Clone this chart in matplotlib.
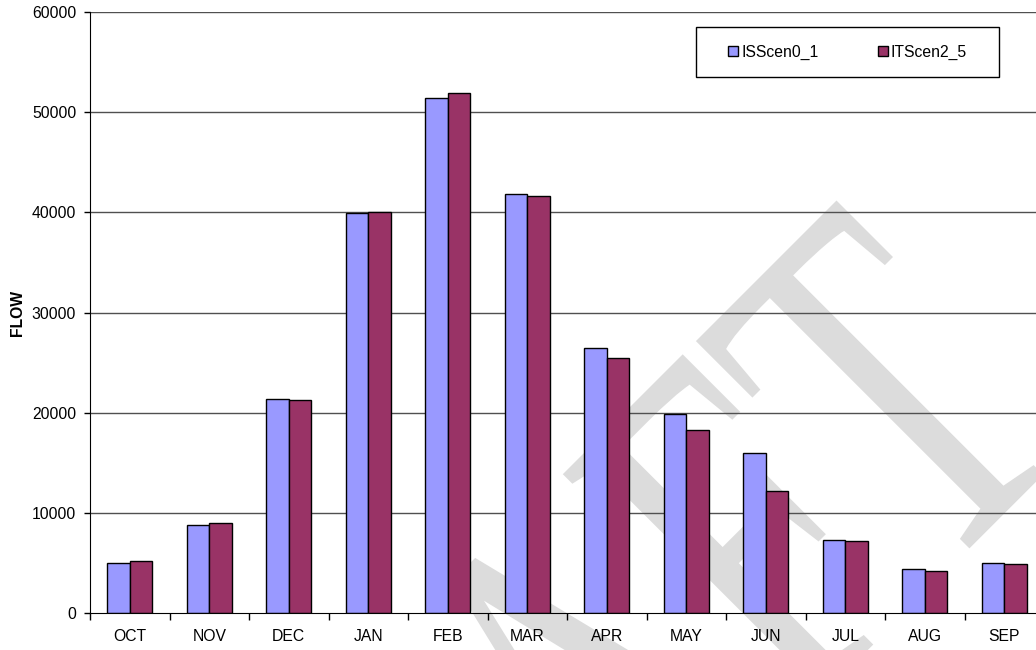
import numpy as np
import matplotlib
matplotlib.use('Agg')
import matplotlib.pyplot as plt
from matplotlib.textpath import TextPath
from matplotlib.font_manager import FontProperties
from matplotlib.patches import PathPatch, Rectangle
from matplotlib.transforms import Affine2D, IdentityTransform

months = ["OCT", "NOV", "DEC", "JAN", "FEB", "MAR", "APR", "MAY", "JUN", "JUL", "AUG", "SEP"]
isscen0_1 = [5050, 8780, 21390, 39980, 51460, 41850, 26510, 19920, 16000, 7350, 4390, 5050]
itscen2_5 = [5250, 8980, 21290, 40080, 51900, 41650, 25510, 18320, 12240, 7250, 4190, 4920]
series_names = ["ISScen0_1", "ITScen2_5"]
series_colors = ["#9999FF", "#993366"]
watermark = "DRAFT"

plt.rcParams['font.family'] = ['Liberation Sans', 'DejaVu Sans']
FS = 11.3

W, H = 1036, 650
fig = plt.figure(figsize=(W / 100, H / 100), dpi=100)

# --- watermark: narrow serif text at 45 deg behind the chart, in pixel coords
fp = FontProperties(family='Liberation Serif', size=100)
tp = TextPath((0, 0), watermark, prop=fp)
u_f = TextPath((0, 0), watermark[:3], prop=fp).get_extents().x1
cap = TextPath((0, 0), "F", prop=fp).get_extents().y1
a, c = 2.44, 2.44                      # along the baseline (squeezed)
b, d = -240.4 / cap, 240.4 / cap       # cap height ~340 px
tx = 554 - (a * u_f + b * cap)
ty = (H - 483) - (c * u_f + d * cap)
wm = PathPatch(tp, facecolor='#dcdcdc', edgecolor='none', zorder=-5,
               transform=Affine2D(np.array([[a, b, tx], [c, d, ty], [0, 0, 1]])))
fig.add_artist(wm)

# axes runs past the right edge of the picture (cropped like the original)
left, right, top, bottom = 90, 1044, 12, 613.3
ax = fig.add_axes([left / W, 1 - bottom / H, (right - left) / W, (bottom - top) / H])
ax.patch.set_alpha(0)

x = np.arange(len(months))
bw = 0.57 / 2
b1 = ax.bar(x - bw / 2, isscen0_1, bw, color=series_colors[0], edgecolor='black',
            linewidth=1, label=series_names[0], zorder=3)
b2 = ax.bar(x + bw / 2, itscen2_5, bw, color=series_colors[1], edgecolor='black',
            linewidth=1, label=series_names[1], zorder=3)

ax.set_xlim(-0.5, len(months) - 0.5)
ax.set_ylim(0, 60000)
ax.set_yticks(np.arange(0, 60001, 10000))
ax.tick_params(axis='y', length=4, width=1, pad=6, labelsize=FS)

# category labels centred, ticks between categories
ax.set_xticks(x)
ax.set_xticklabels(months, fontsize=FS)
ax.set_xticks(np.arange(-0.5, len(months)), minor=True)
ax.tick_params(axis='x', which='major', length=0, pad=11)
ax.tick_params(axis='x', which='minor', length=5, width=1)

for v in range(10000, 60001, 10000):
    ax.axhline(v, color='#505050', linewidth=1, zorder=2)

for s in ['top', 'right']:
    ax.spines[s].set_visible(False)
ax.spines['left'].set_zorder(4)
ax.spines['bottom'].set_zorder(4)

ax.set_ylabel("FLOW", fontsize=FS, fontweight='bold')
ax.yaxis.set_label_coords(-(90 - 25) / (right - left), (bottom - 313) / (bottom - top))

# legend box drawn by hand so the padding matches
fig.add_artist(Rectangle((696, H - 77), 303, 50, transform=IdentityTransform(),
                         facecolor='white', edgecolor='black', linewidth=1, zorder=5))
leg = fig.legend(handles=[b1, b2], labels=series_names, loc='center left',
                 bbox_to_anchor=(728 / W, 1 - 52 / H), bbox_transform=fig.transFigure,
                 ncol=2, frameon=False, fontsize=FS, handlelength=0.63,
                 handleheight=0.63, handletextpad=0.2, columnspacing=3.8,
                 borderpad=0, borderaxespad=0)
leg.set_zorder(6)

fig.savefig("out.png", dpi=100)
